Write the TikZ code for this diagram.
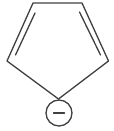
\documentclass[tikz,border=0pt]{standalone}
\begin{document}
\begin{tikzpicture}[x=1pt,y=-1pt,
  bond/.style={line width=1.3pt,draw=black!75,line cap=round,line join=round}]
\useasboundingbox (0,0) rectangle (113,131);
\coordinate (tl) at (33,3);
\coordinate (tr) at (82,3);
\coordinate (r) at (108.5,61);
\coordinate (l) at (7,61);
\coordinate (b) at (58.5,99);
\draw[bond] (b) -- (l) -- (tl) -- (tr) -- (r) -- cycle;
\coordinate (l1) at (35,13);
\coordinate (l2) at (15.5,55);
\coordinate (r1) at (79.5,12);
\coordinate (r2) at (100.5,55);
\draw[bond] (l1) -- (l2);
\draw[bond] (r1) -- (r2);
\node[circle,draw=black!75,line width=1.3pt,minimum size=26pt,inner sep=0pt] (charge) at (59,113) {};
\coordinate (m1) at ([xshift=-5.5pt]charge.center);
\coordinate (m2) at ([xshift=5.5pt]charge.center);
\draw[bond] (m1) -- (m2);
\end{tikzpicture}
\end{document}
